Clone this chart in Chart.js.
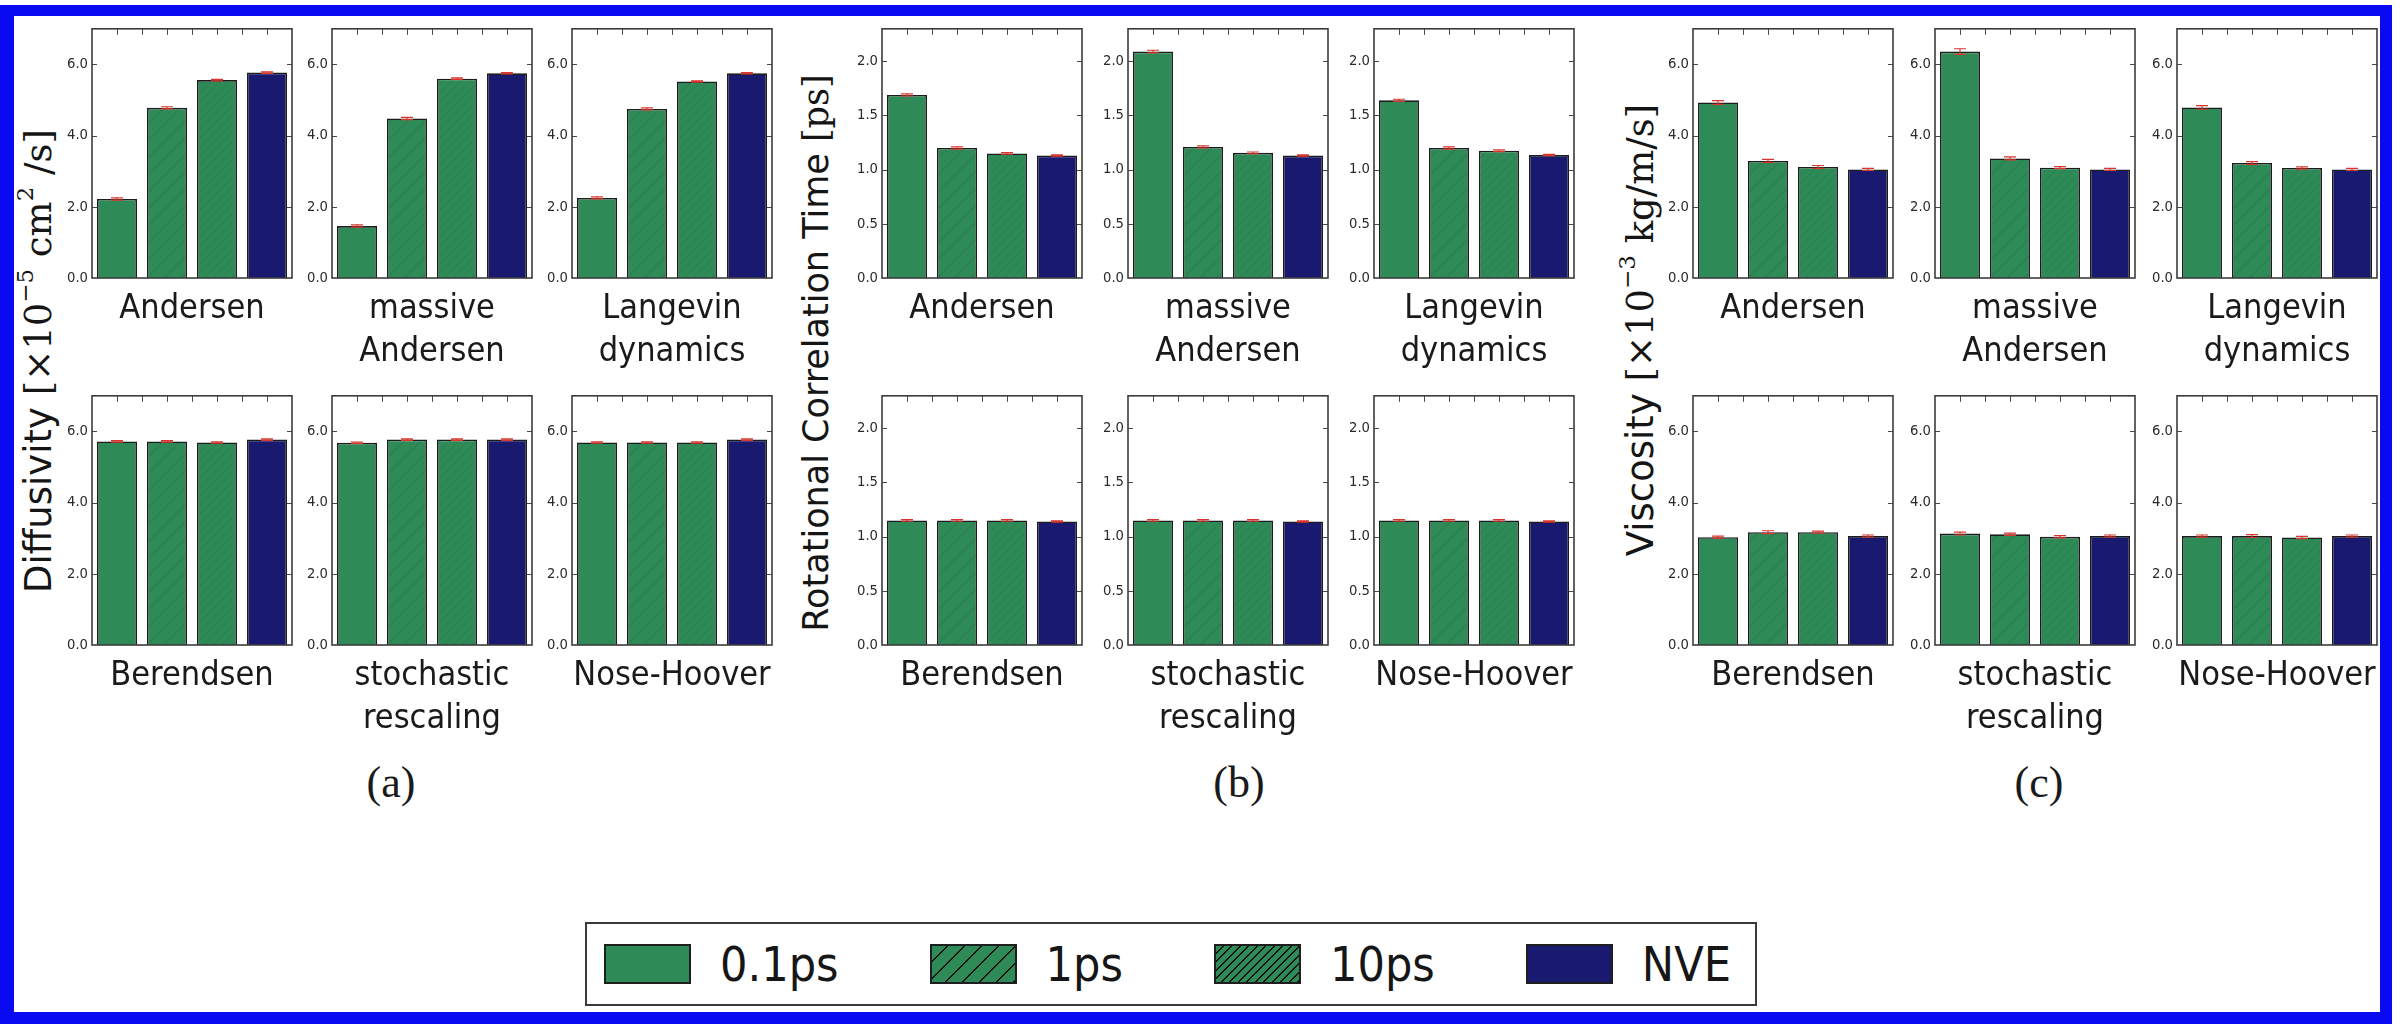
<!DOCTYPE html>
<html>
<head>
<meta charset="utf-8">
<script src="https://cdn.jsdelivr.net/npm/chart.js@4.4.1/dist/chart.umd.min.js"></script>
<style>
html,body{margin:0;padding:0;background:#fff;}
body{width:2404px;height:1024px;position:relative;overflow:hidden;font-family:'DejaVu Sans',sans-serif;}
canvas{position:absolute;}
.frame{position:absolute;left:0;top:5px;width:2392px;height:1019px;box-sizing:border-box;border-style:solid;border-color:#0a0af2;border-width:11px 12px 12px 14px;z-index:10;pointer-events:none;}
.ylab{position:absolute;white-space:nowrap;transform:translate(-50%,-50%) rotate(-90deg);font-family:'DejaVu Sans',sans-serif;font-size:37px;color:#151515;}
.ylab .m{font-family:'DejaVu Serif','Liberation Serif',serif;}
.ylab sup{font-size:62%;vertical-align:0.75em;line-height:0;}
.plab{position:absolute;transform:translate(-50%,-50%);font-family:'Liberation Serif','DejaVu Serif',serif;font-size:44px;color:#1a1a1a;}
#legend{position:absolute;left:585px;top:922px;width:1172px;height:84px;box-sizing:border-box;border:2.5px solid #3a3a3a;display:flex;align-items:center;padding-left:17px;background:#fff;}
#legend .item{display:flex;align-items:center;margin-right:91px;}
#legend .item:last-child{margin-right:0;}
#legend .sw{width:87px;height:40px;box-sizing:border-box;border:2px solid #1e1e1e;margin-right:29px;}
#legend .tx{color:#161616;line-height:1;}
</style>
</head>
<body>
<div class="frame"></div>

<div class="ylab" style="left:38px;top:361px">Diffusivity <span class="m">[×10<sup>−5</sup> cm<sup>2</sup> /s]</span></div>
<div class="ylab" style="left:816px;top:353px;font-size:35px">Rotational Correlation Time <span class="m">[ps]</span></div>
<div class="ylab" style="left:1640px;top:330px">Viscosity <span class="m">[×10<sup>−3</sup> kg/m/s]</span></div>

<div class="plab" style="left:391px;top:782px">(a)</div>
<div class="plab" style="left:1239px;top:782px">(b)</div>
<div class="plab" style="left:2039px;top:782px">(c)</div>

<div id="legend"></div>

<script>
// ---------------- DATA ----------------
const thermostatLabels = [["Andersen"], ["massive", "Andersen"], ["Langevin", "dynamics"], ["Berendsen"], ["stochastic", "rescaling"], ["Nose-Hoover"]];
const seriesNames = ["0.1ps", "1ps", "10ps", "NVE"];

// Diffusivity [x1e-5 cm^2/s], one value per thermostat
const diff_01  = [2.22, 1.46, 2.25, 5.72, 5.68, 5.69];
const diff_1   = [4.78, 4.48, 4.75, 5.72, 5.77, 5.69];
const diff_10  = [5.56, 5.60, 5.52, 5.69, 5.77, 5.69];
const diff_NVE = [5.77, 5.75, 5.75, 5.77, 5.77, 5.77];
const diffErr  = [[0.03, 0.03, 0.02, 0.02], [0.03, 0.03, 0.02, 0.02], [0.03, 0.03, 0.02, 0.02],
                  [0.02, 0.02, 0.02, 0.02], [0.02, 0.02, 0.02, 0.02], [0.02, 0.02, 0.02, 0.02]];

// Rotational correlation time [ps]
const rot_01  = [1.69, 2.09, 1.64, 1.15, 1.15, 1.15];
const rot_1   = [1.20, 1.21, 1.20, 1.15, 1.15, 1.15];
const rot_10  = [1.15, 1.155, 1.175, 1.15, 1.15, 1.15];
const rot_NVE = [1.13, 1.13, 1.135, 1.14, 1.14, 1.14];
const rotErr  = [[0.01, 0.01, 0.008, 0.006], [0.012, 0.01, 0.008, 0.006], [0.01, 0.01, 0.008, 0.006],
                 [0.008, 0.008, 0.008, 0.006], [0.008, 0.008, 0.008, 0.006], [0.008, 0.008, 0.008, 0.006]];

// Viscosity [x1e-3 kg/m/s]
const visc_01  = [4.93, 6.36, 4.79, 3.03, 3.13, 3.06];
const visc_1   = [3.29, 3.36, 3.23, 3.17, 3.11, 3.06];
const visc_10  = [3.12, 3.10, 3.09, 3.17, 3.04, 3.02];
const visc_NVE = [3.05, 3.05, 3.05, 3.06, 3.06, 3.06];
const viscErr  = [[0.05, 0.04, 0.04, 0.03], [0.08, 0.04, 0.03, 0.03], [0.05, 0.04, 0.03, 0.03],
                  [0.03, 0.04, 0.03, 0.03], [0.04, 0.03, 0.03, 0.03], [0.03, 0.04, 0.03, 0.03]];

// Tick labels
const diffTicks = [0, 2, 4, 6];
const diffTickLabels = ["0.0", "2.0", "4.0", "6.0"];
const diffMax = 7;
const rotTicks = [0, 0.5, 1, 1.5, 2];
const rotTickLabels = ["0.0", "0.5", "1.0", "1.5", "2.0"];
const rotMax = 2.3;
const viscTicks = [0, 2, 4, 6];
const viscTickLabels = ["0.0", "2.0", "4.0", "6.0"];
const viscMax = 7;

// ---------------- STYLE / LAYOUT ----------------
const GREEN = '#2e8b57', NAVY = '#191970';
const PW = 200, PH = 252, YW = 40, PADT = 10, XH = 100, PADR = 3;
const rowTops = [26, 393];

function fontAvailable(name) {
  const c = document.createElement('canvas').getContext('2d');
  const s = 'Nose-Hoover 0.1ps mmmwwwiii';
  c.font = '40px monospace'; const a = c.measureText(s).width;
  c.font = '40px "' + name + '", monospace'; const b = c.measureText(s).width;
  return Math.abs(a - b) > 0.5;
}
const condFamily = ["DejaVu Sans Condensed", "Liberation Sans Narrow", "DejaVu Sans"].find(fontAvailable) || 'sans-serif';
function fitSize(family, text, targetW, maxSize) {
  const c = document.createElement('canvas').getContext('2d');
  c.font = '100px "' + family + '"';
  const w = c.measureText(text).width / 100;
  return Math.min(maxSize, targetW / w);
}
const labelSize = fitSize(condFamily, 'Nose-Hoover', 198, 34);
const legendSize = fitSize(condFamily, '0.1ps', 120, 48);
const tickSize = fitSize(condFamily, '6.0', 21, 15);

function hatch(spacing, base, line, lw) {
  const c = document.createElement('canvas');
  c.width = c.height = spacing;
  const g = c.getContext('2d');
  g.fillStyle = base; g.fillRect(0, 0, spacing, spacing);
  g.strokeStyle = line; g.lineWidth = lw;
  g.beginPath();
  g.moveTo(-1, spacing + 1); g.lineTo(spacing + 1, -1);
  g.moveTo(-spacing / 2, spacing / 2); g.lineTo(spacing / 2, -spacing / 2);
  g.moveTo(spacing / 2, spacing * 1.5); g.lineTo(spacing * 1.5, spacing / 2);
  g.stroke();
  return g.createPattern(c, 'repeat');
}
const fills = [GREEN, hatch(17, GREEN, 'rgba(0,0,0,0.07)', 1.5), hatch(9, GREEN, 'rgba(0,0,0,0.06)', 1.2), NAVY];

const framePlugin = {
  id: 'frame',
  afterDatasetsDraw(chart) {
    const { ctx, chartArea: a, scales: { x, y } } = chart;
    ctx.save();
    ctx.strokeStyle = '#4a4a4a'; ctx.lineWidth = 1;
    ctx.beginPath();
    y.ticks.forEach(t => {
      if (t.value === y.min) return;
      const py = Math.round(y.getPixelForValue(t.value)) + 0.5;
      ctx.moveTo(a.left, py); ctx.lineTo(a.left + 5, py);
      ctx.moveTo(a.right, py); ctx.lineTo(a.right - 5, py);
    });
    const n = chart.data.labels.length;
    for (let i = 0; i < n; i++) {
      const cx = Math.round(x.getPixelForValue(i)) + 0.5;
      ctx.moveTo(cx, a.top); ctx.lineTo(cx, a.top + 6);
      if (i > 0) {
        const bx = Math.round((x.getPixelForValue(i) + x.getPixelForValue(i - 1)) / 2) + 0.5;
        ctx.moveTo(bx, a.top); ctx.lineTo(bx, a.top + 6);
      }
    }
    ctx.stroke();
    ctx.strokeStyle = '#3c3c3c'; ctx.lineWidth = 1.6;
    ctx.strokeRect(a.left, a.top, a.right - a.left, a.bottom - a.top);
    ctx.restore();
  }
};

const errPlugin = {
  id: 'errbars',
  afterDatasetsDraw(chart) {
    const ds = chart.data.datasets[0];
    if (!ds.errors) return;
    const meta = chart.getDatasetMeta(0), y = chart.scales.y, ctx = chart.ctx;
    ctx.save();
    ctx.strokeStyle = '#d8362e'; ctx.lineWidth = 1.2;
    ctx.beginPath();
    meta.data.forEach((bar, i) => {
      const v = ds.data[i], e = ds.errors[i];
      const y1 = y.getPixelForValue(v + e), y2 = y.getPixelForValue(v - e);
      ctx.moveTo(bar.x, y1); ctx.lineTo(bar.x, y2);
      ctx.moveTo(bar.x - 6, y1); ctx.lineTo(bar.x + 6, y1);
      ctx.moveTo(bar.x - 6, y2); ctx.lineTo(bar.x + 6, y2);
    });
    ctx.stroke();
    ctx.restore();
  }
};

const panels = [
  { series: [diff_01, diff_1, diff_10, diff_NVE], err: diffErr, ticks: diffTicks, tickLabels: diffTickLabels, max: diffMax, lefts: [92, 332, 572] },
  { series: [rot_01, rot_1, rot_10, rot_NVE], err: rotErr, ticks: rotTicks, tickLabels: rotTickLabels, max: rotMax, lefts: [882, 1128, 1374] },
  { series: [visc_01, visc_1, visc_10, visc_NVE], err: viscErr, ticks: viscTicks, tickLabels: viscTickLabels, max: viscMax, lefts: [1693, 1935, 2177] }
];

panels.forEach(P => {
  thermostatLabels.forEach((lab, t) => {
    const row = t < 3 ? 0 : 1, col = t % 3;
    const cv = document.createElement('canvas');
    cv.width = YW + PW + PADR; cv.height = PADT + PH + XH;
    cv.style.left = (P.lefts[col] - YW) + 'px';
    cv.style.top = (rowTops[row] - PADT) + 'px';
    document.body.appendChild(cv);
    const vals = P.series.map(s => s[t]);
    new Chart(cv, {
      type: 'bar',
      data: {
        labels: seriesNames,
        datasets: [{
          data: vals,
          errors: P.err[t],
          backgroundColor: fills,
          borderColor: '#1c1c1c',
          borderWidth: 1.6,
          barPercentage: 0.8,
          categoryPercentage: 1.0
        }]
      },
      options: {
        responsive: false, animation: false, devicePixelRatio: 1,
        layout: { padding: { top: PADT, right: PADR, left: 0, bottom: 0 } },
        plugins: { legend: { display: false }, tooltip: { enabled: false } },
        scales: {
          x: {
            grid: { display: false, drawTicks: false }, border: { display: false },
            ticks: { display: false },
            title: {
              display: true,
              text: lab.length === 1 ? [lab[0], ''] : lab,
              color: '#1a1a1a',
              font: { family: condFamily, size: labelSize, lineHeight: '43px' },
              padding: { top: 0, bottom: 4.5 }
            },
            afterFit: s => { s.height = XH; }
          },
          y: {
            min: 0, max: P.max,
            grid: { display: false, drawTicks: false }, border: { display: false },
            ticks: {
              padding: 4, color: '#2a2a2a',
              font: { family: condFamily, size: tickSize },
              callback: v => { const k = P.ticks.indexOf(v); return k >= 0 ? P.tickLabels[k] : ''; }
            },
            afterBuildTicks: s => { s.ticks = P.ticks.map(v => ({ value: v })); },
            afterFit: s => { s.width = YW; }
          }
        }
      },
      plugins: [framePlugin, errPlugin]
    });
  });
});

// ---------------- LEGEND ----------------
const swatchCss = [
  GREEN,
  'repeating-linear-gradient(135deg,' + GREEN + ' 0 10.3px,#111 10.3px 12px)',
  'repeating-linear-gradient(135deg,' + GREEN + ' 0 4.6px,#111 4.6px 6px)',
  NAVY
];
const legend = document.getElementById('legend');
seriesNames.forEach((name, i) => {
  const item = document.createElement('div'); item.className = 'item';
  const sw = document.createElement('div'); sw.className = 'sw'; sw.style.background = swatchCss[i];
  const tx = document.createElement('div'); tx.className = 'tx'; tx.textContent = name;
  tx.style.fontFamily = '"' + condFamily + '"'; tx.style.fontSize = legendSize + 'px';
  item.appendChild(sw); item.appendChild(tx); legend.appendChild(item);
});
</script>
</body>
</html>
